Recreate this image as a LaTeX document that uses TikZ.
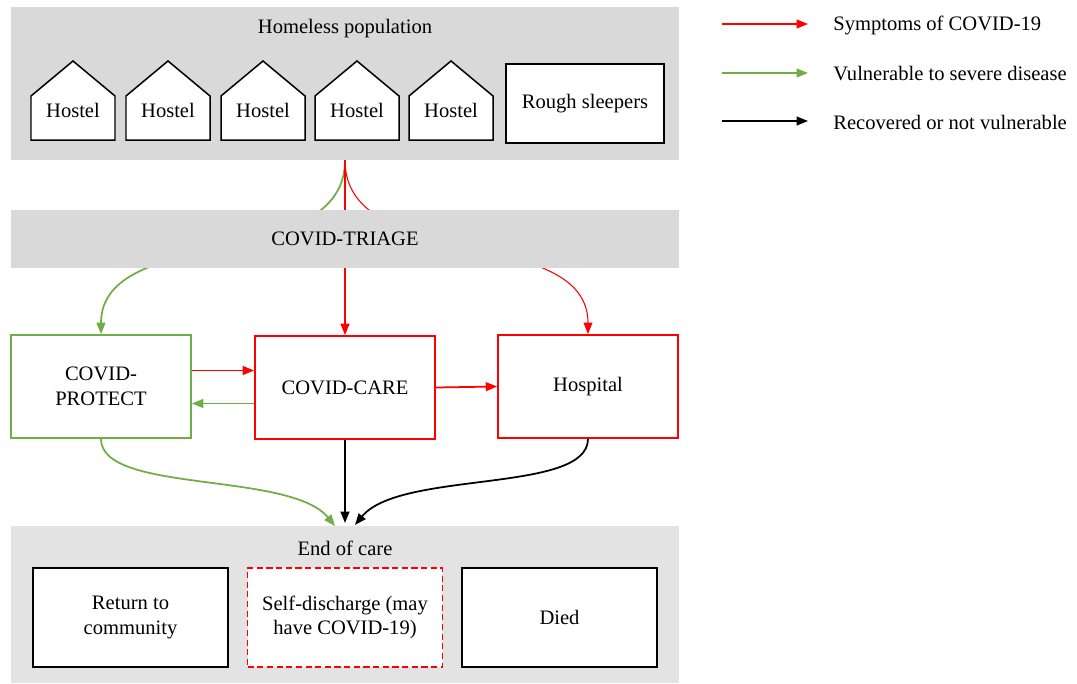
\documentclass[tikz,border=0pt]{standalone}
\usepackage{fontspec}
\setmainfont{Liberation Serif}
\usepackage{xcolor}
\usepackage{tikz}
\usetikzlibrary{arrows.meta,backgrounds,positioning}
\definecolor{protectgreen}{HTML}{70AD47}
\definecolor{panelgray}{HTML}{D9D9D9}
\definecolor{endgray}{HTML}{E3E3E3}

\begin{document}
\begin{tikzpicture}
  [
  x=0.02cm,y=-0.02cm,
  font=\fontsize{11.7}{14}\selectfont,
  panel/.style={rectangle,fill=panelgray,inner sep=0pt,minimum width=13.36cm},
  house/.style={draw=black,fill=white,line width=0.85pt,line join=miter},
  rough/.style={rectangle,draw=black,fill=white,line width=0.85pt,minimum width=3.16cm,minimum height=1.58cm},
  stage/.style={rectangle,draw=red,fill=white,line width=1pt,align=center,minimum width=3.6cm,minimum height=2.06cm},
  outcome/.style={rectangle,draw=black,fill=white,line width=0.85pt,align=center,minimum width=3.9cm,minimum height=1.98cm},
  post/.style={-{Triangle[length=6.5pt,width=5pt]}},
  symptom/.style={draw=red,line width=1pt,post},
  vulnerable/.style={draw=protectgreen,line width=1pt,post},
  recovered/.style={draw=black,line width=1pt,post}
  ]
  \useasboundingbox (0,0) rectangle (1077,683);

  % homeless population
  \node[panel,minimum height=3.06cm] (homeless) at (345,83.5) {};
  \node (homeless title) at (345,29) {Homeless population};
  \foreach \hx [count=\i] in {73,168,263,357,451} {
    \draw[house] (\hx-42,140) -- (\hx-42,96) -- (\hx,61) -- (\hx+42,96) -- (\hx+42,140) -- cycle;
    \node (hostel\i) at (\hx,110) {Hostel};
  }
  \node[rough] (rough sleepers) at (585,103.5) {\raisebox{-3pt}{Rough sleepers}};

  % care stages
  \node[stage,draw=protectgreen] (protect) at (101,386.5) {COVID-\\PROTECT};
  \node[stage] (care) at (345,387.5) {COVID-CARE};
  \node[stage] (hospital) at (588,386.5) {Hospital};

  % triage, drawn over the lines
  \draw[vulnerable] (homeless.south) .. controls +(0,113) and +(0,-111) .. (protect.north);
  \draw[symptom,line width=0.6pt] (homeless.south) .. controls +(0,113) and +(0,-111) .. (hospital.north);
  \draw[symptom] (homeless.south) -- (care.north);
  \node[panel,minimum height=1.16cm] (triage) at (345,239) {COVID-TRIAGE};

  \draw[symptom] ([yshift=0.32cm]protect.east) -- ([yshift=0.32cm]protect.east -| care.west);
  \draw[vulnerable] ([yshift=-0.32cm]care.west) -- ([yshift=-0.32cm]care.west -| protect.east);
  \draw[symptom] (care.east) -- (hospital.west);

  % end of care
  \node[panel,fill=endgray,minimum height=3.14cm] (end of care) at (345,604.5) {};
  \node (end title) at (345,548) {End of care};
  \node[outcome] (community) at (130.5,617.5) {Return to\\community};
  \node[outcome,draw=red,line width=1pt,dash pattern=on 3.5pt off 2pt] (self discharge) at (345,617.5) {Self-discharge (may\\have COVID-19)};
  \node[outcome] (died) at (559.5,617.5) {Died};

  \coordinate (end left) at (335,526);
  \coordinate (end mid) at (345,523);
  \coordinate (end right) at (355,525);
  \draw[vulnerable] (protect.south) .. controls +(0,55) and +(-45,-55) .. (end left);
  \draw[recovered] (care.south) -- (end mid);
  \draw[recovered] (hospital.south) .. controls +(0,55) and +(45,-55) .. (end right);

  % key
  \foreach \ky/\kc/\kt [count=\i] in {24/red/Symptoms of COVID-19,73/protectgreen/Vulnerable to severe disease,121/black/Recovered or not vulnerable} {
    \coordinate (key start\i) at (722,\ky);
    \coordinate (key end\i) at (808,\ky);
    \draw[draw=\kc,line width=1pt,post] (key start\i) -- (key end\i);
    \node[anchor=west,inner sep=0pt] (key\i) at (833,\ky+1) {\kt};
  }
\end{tikzpicture}
\end{document}
